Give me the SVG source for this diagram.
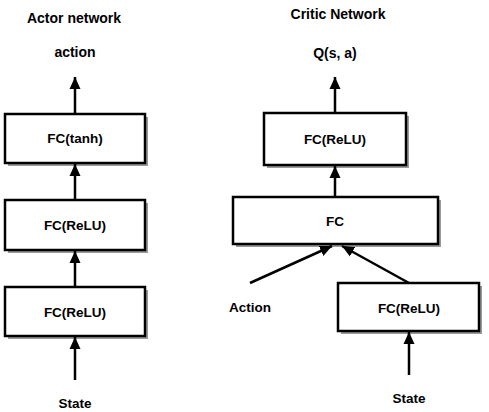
<svg xmlns="http://www.w3.org/2000/svg" width="489" height="412" viewBox="0 0 489 412">
<defs>
<marker id="ah" markerUnits="userSpaceOnUse" markerWidth="12" markerHeight="12" refX="12" refY="6" orient="auto">
<path d="M0,0.5 L12,6 L0,11.5 z" fill="#000"/>
</marker>
</defs>
<style>
text{font-family:"Liberation Sans",Arial,sans-serif;font-weight:bold;font-size:13.5px;fill:#000;text-anchor:middle}
.t{font-size:14px}
.box{fill:#fff;stroke:#000;stroke-width:2.5}
.sh{fill:#9a9a9a}
.c line{stroke:#000;stroke-width:2.5;marker-end:url(#ah)}
</style>
<rect width="489" height="412" fill="#fff"/>
<text class="t" x="74" y="23">Actor network</text>
<text class="t" x="75" y="57">action</text>
<text class="t" x="338" y="19">Critic Network</text>
<text class="t" x="335" y="58">Q(s, a)</text>
<text x="250" y="312">Action</text>
<text x="75" y="408">State</text>
<text x="409" y="403">State</text>
<g id="a1">
<rect class="sh" x="8" y="117" width="140" height="49"/>
<rect class="box" x="5" y="114" width="140" height="49"/>
<text x="75" y="143">FC(tanh)</text>
</g>
<g id="a2">
<rect class="sh" x="8" y="203" width="140" height="50"/>
<rect class="box" x="5" y="200" width="140" height="50"/>
<text x="75" y="230">FC(ReLU)</text>
</g>
<g id="a3">
<rect class="sh" x="8" y="290" width="140" height="49"/>
<rect class="box" x="5" y="287" width="140" height="49"/>
<text x="75" y="317">FC(ReLU)</text>
</g>
<g id="c1">
<rect class="sh" x="267" y="116" width="142" height="52"/>
<rect class="box" x="264" y="113" width="142" height="52"/>
<text x="335" y="144">FC(ReLU)</text>
</g>
<g id="c2">
<rect class="sh" x="236" y="200" width="205" height="47"/>
<rect class="box" x="233" y="197" width="205" height="47"/>
<text x="335" y="226">FC</text>
</g>
<g id="c3">
<rect class="sh" x="341" y="286" width="141" height="48"/>
<rect class="box" x="338" y="283" width="141" height="48"/>
<text x="409" y="313">FC(ReLU)</text>
</g>
<g class="c">
<line x1="75" y1="113" x2="75" y2="77"/>
<line x1="75" y1="200" x2="75" y2="164"/>
<line x1="75" y1="287" x2="75" y2="251"/>
<line x1="75" y1="380" x2="75" y2="337"/>
<line x1="335" y1="113" x2="335" y2="77"/>
<line x1="335" y1="197" x2="335" y2="166"/>
<line x1="250" y1="283" x2="332" y2="246"/>
<line x1="409" y1="283" x2="342" y2="246"/>
<line x1="409" y1="375" x2="409" y2="332"/>
</g>
</svg>
